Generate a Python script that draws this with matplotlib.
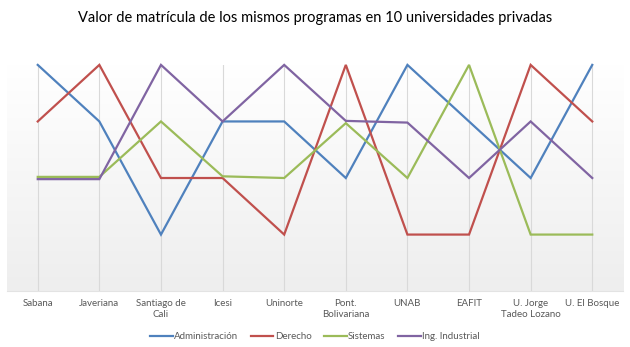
import numpy as np
import matplotlib
matplotlib.use('Agg')
import matplotlib.pyplot as plt

plt.rcParams['font.family'] = ['Lato', 'DejaVu Sans']

universidades = ['Sabana', 'Javeriana', 'Santiago de\nCali', 'Icesi', 'Uninorte',
                 'Pont.\nBolivariana', 'UNAB', 'EAFIT', 'U. Jorge\nTadeo Lozano',
                 'U. El Bosque']
administracion = [4, 3, 1, 3, 3, 2, 4, 3, 2, 4]
derecho = [3, 4, 2, 2, 1, 4, 1, 1, 4, 3]
sistemas = [2.02, 2.02, 3, 2.03, 2.0, 2.97, 2, 4, 1, 1]
ing_industrial = [1.98, 1.98, 4, 3, 4, 3.01, 2.98, 2, 3, 2]

series = [
    ('Administración', administracion, '#4f81bd'),
    ('Derecho', derecho, '#c0504d'),
    ('Sistemas', sistemas, '#9bbb59'),
    ('Ing. Industrial', ing_industrial, '#8064a2'),
]

fig = plt.figure(figsize=(6.3, 3.47), dpi=100)
ax = fig.add_axes([0.011, 0.161, 0.978, 0.652])

# degradado del fondo del área de trazado
grad = np.linspace(1, 0, 256).reshape(-1, 1)
cmap = matplotlib.colors.LinearSegmentedColormap.from_list('bg', ['#eeeeee', '#ffffff'])
ax.imshow(grad, extent=[0, 1, 0, 1], transform=ax.transAxes, cmap=cmap,
          aspect='auto', zorder=0, origin='upper')

x = np.arange(len(universidades))
for name, vals, col in series:
    ax.plot(x, vals, color=col, linewidth=1.6, label=name, zorder=3,
            clip_on=False, solid_joinstyle='miter')

ax.set_xlim(-0.5, len(universidades) - 0.5)
ax.set_ylim(0, 4)
ax.set_xticks(x)
ax.set_xticklabels(universidades, fontsize=7, color='#595959')
ax.tick_params(axis='x', length=0, pad=6)
ax.set_yticks([])
ax.grid(axis='x', color='#d9d9d9', linewidth=0.8, zorder=1)
ax.set_axisbelow(True)
for s in ['top', 'left', 'right']:
    ax.spines[s].set_visible(False)
ax.spines['bottom'].set_color('#e3e3e3')
ax.spines['bottom'].set_linewidth(0.8)

fig.suptitle('Valor de matrícula de los mismos programas en 10 universidades privadas',
             y=0.967, fontsize=10.5, color='#000000')

fig.legend(loc='center', bbox_to_anchor=(0.5, 0.03), ncol=4, frameon=False,
           fontsize=7, handlelength=2.3, handletextpad=0.15, columnspacing=1.3,
           labelcolor='#595959')

fig.savefig('out.png', dpi=100, facecolor='white')
